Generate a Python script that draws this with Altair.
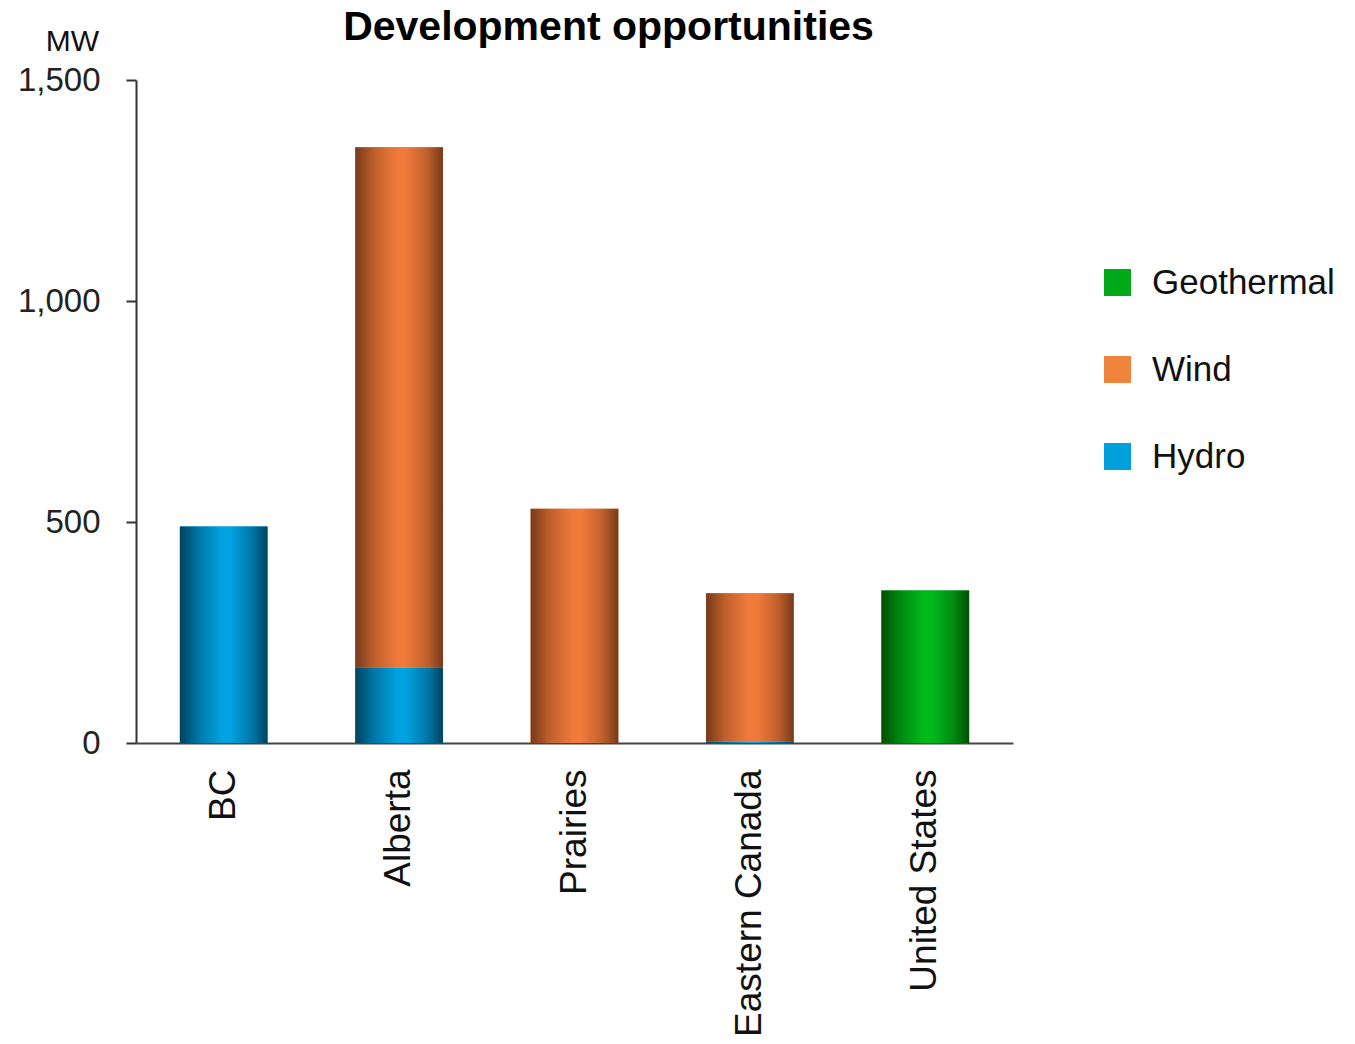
import altair as alt
import pandas as pd

regions = ["BC", "Alberta", "Prairies", "Eastern Canada", "United States"]
hydro = [490, 170, 0, 3, 0]
wind = [0, 1178, 530, 336, 0]
geothermal = [0, 0, 0, 0, 345]
legend_order = ["Geothermal", "Wind", "Hydro"]
legend_colors = ["#00A91A", "#F0843C", "#00A0DC"]
y_ticks = [0, 500, 1000, 1500]

rows = []
for i, r in enumerate(regions):
    for s, vals, order in [("Hydro", hydro, 0), ("Wind", wind, 1), ("Geothermal", geothermal, 2)]:
        rows.append({"region": r, "source": s, "mw": vals[i], "order": order})
df = pd.DataFrame(rows)


def grad(dark, mid, bright):
    return alt.LinearGradient(
        gradient="linear", x1=0, x2=1, y1=0, y2=0,
        stops=[
            alt.GradientStop(color=dark, offset=0),
            alt.GradientStop(color=mid, offset=0.22),
            alt.GradientStop(color=bright, offset=0.48),
            alt.GradientStop(color=bright, offset=0.58),
            alt.GradientStop(color=mid, offset=0.82),
            alt.GradientStop(color=dark, offset=1),
        ],
    )


gradients = {
    "Hydro": grad("#00435F", "#0078A8", "#00A3E0"),
    "Wind": grad("#773A1A", "#C0602C", "#F07A3C"),
    "Geothermal": grad("#004F00", "#008A12", "#00BA1C"),
}

x_enc = alt.X(
    "region:N", sort=regions, title=None,
    scale=alt.Scale(paddingInner=0.5, paddingOuter=0.25),
    axis=alt.Axis(
        labelAngle=270, labelAlign="right", labelBaseline="middle",
        labelFont="Liberation Sans", labelFontSize=37, labelColor="#111",
        labelPadding=26, labelLimit=0, ticks=False, domainColor="#444",
        domainWidth=2, grid=False,
    ),
)
y_enc = alt.Y(
    "y0:Q", title="MW",
    scale=alt.Scale(domain=[0, 1500], nice=False),
    axis=alt.Axis(
        values=y_ticks, format=",.0f", grid=False,
        labelFont="Liberation Sans", labelFontSize=33, labelColor="#222",
        labelPadding=26, tickSize=10, tickWidth=2, tickColor="#333",
        domainColor="#333", domainWidth=2,
        titleAngle=0, titleX=-64, titleY=-30, titleAlign="center",
        titleBaseline="alphabetic", titleFont="Liberation Sans",
        titleFontSize=30, titleFontWeight="normal", titleColor="#111",
    ),
)

base = alt.Chart(df).transform_stack(
    stack="mw", groupby=["region"], as_=["y0", "y1"],
    sort=[alt.SortField("order", order="ascending")],
).transform_filter(alt.datum.mw > 0)

legend_layer = base.mark_bar().encode(
    x=x_enc, y=y_enc, y2="y1:Q",
    color=alt.Color(
        "source:N",
        scale=alt.Scale(domain=legend_order, range=legend_colors),
        legend=alt.Legend(
            title=None, orient="none", legendX=964, legendY=185,
            symbolType="square", symbolSize=729, symbolStrokeWidth=0,
            labelFont="Liberation Sans", labelFontSize=35, labelColor="#111",
            labelOffset=17, labelLimit=0, rowPadding=51, padding=0,
        ),
    ),
)

layers = [legend_layer]
for s in ["Hydro", "Wind", "Geothermal"]:
    layers.append(
        base.transform_filter(alt.datum.source == s)
        .mark_bar(color=gradients[s])
        .encode(x=x_enc, y=y_enc, y2="y1:Q")
    )

chart = alt.layer(*layers).properties(
    width=877, height=663,
    title=alt.Title(
        "Development opportunities", font="Liberation Sans", fontSize=41,
        fontWeight="bold", color="#000", anchor="middle", dx=34,
        baseline="alphabetic", offset=-55,
    ),
    autosize=alt.AutoSizeParams(type="none"),
    padding={"left": 128, "top": 72, "right": 326, "bottom": 300},
).configure_view(stroke=None)

chart.save("out.html", embed_options={"renderer": "svg", "actions": False})
